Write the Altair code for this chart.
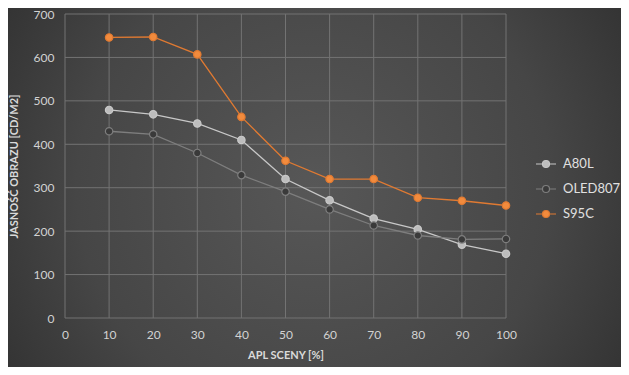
import altair as alt
import pandas as pd

apl = [10, 20, 30, 40, 50, 60, 70, 80, 90, 100]
a80l = [479, 469, 448, 410, 320, 271, 229, 204, 169, 148]
oled807 = [430, 423, 380, 329, 291, 250, 213, 190, 181, 182]
s95c = [646, 647, 607, 463, 362, 320, 320, 277, 270, 259]
series = ["A80L", "OLED807", "S95C"]
x_ticks = [0, 10, 20, 30, 40, 50, 60, 70, 80, 90, 100]
y_ticks = [0, 100, 200, 300, 400, 500, 600, 700]
stroke_colors = ["#c8c8c8", "#7e7e7e", "#e07a32"]
fill_colors = ["#bdbdbd", "#3a3a3a", "#f28b3d"]

rows = []
for name, vals in zip(series, [a80l, oled807, s95c]):
    for x, v in zip(apl, vals):
        rows.append({"apl": x, "val": v, "series": name})
df = pd.DataFrame(rows)

W, H = 441, 304
PAD = {"left": 57, "top": 6, "right": 115, "bottom": 49}

xscale = alt.Scale(domain=[0, 100], nice=False)
yscale = alt.Scale(domain=[0, 700], nice=False)

bg = alt.Chart(pd.DataFrame({"a": [0]})).mark_rect(
    fill=alt.Gradient(
        gradient="radial",
        x1=0.5, y1=0.5, r1=0.0, x2=0.5, y2=0.5, r2=0.75,
        stops=[alt.GradientStop(color="#575757", offset=0),
               alt.GradientStop(color="#464646", offset=0.5),
               alt.GradientStop(color="#222222", offset=1)],
    ),
    clip=False,
).encode(
    x=alt.value(-PAD["left"] - 10),
    x2=alt.value(W + PAD["right"] + 10),
    y=alt.value(-PAD["top"] - 10),
    y2=alt.value(H + PAD["bottom"] + 10),
)

vgrid = alt.Chart(pd.DataFrame({"t": x_ticks})).mark_rule(
    color="#737373", strokeWidth=1
).encode(x=alt.X("t:Q", scale=xscale, title="APL SCENY [%]",
                 axis=alt.Axis(values=x_ticks, grid=False, zindex=1)))

hgrid = alt.Chart(pd.DataFrame({"t": y_ticks})).mark_rule(
    color="#737373", strokeWidth=1
).encode(y=alt.Y("t:Q", scale=yscale, title="JASNOŚĆ OBRAZU [CD/M2]",
                 axis=alt.Axis(values=y_ticks, grid=False, zindex=1)))

sym = "M-1,0H-0.35M0.35,0H1M0.35,0A0.35,0.35,0,1,1,-0.35,0A0.35,0.35,0,1,1,0.35,0Z"
leg = alt.Legend(title=None, orient="none", legendX=470, legendY=139,
                 symbolType=sym, symbolSize=400, symbolStrokeWidth=1.2,
                 labelFontSize=13, labelColor="#e0e0e0", labelFont="Lato",
                 labelOffset=6, rowPadding=7, padding=0, zindex=1)

stroke_enc = alt.Stroke("series:N", scale=alt.Scale(domain=series, range=stroke_colors), legend=leg)

lines = alt.Chart(df).mark_line(strokeWidth=1.3).encode(
    x=alt.X("apl:Q", scale=xscale),
    y=alt.Y("val:Q", scale=yscale),
    stroke=stroke_enc,
)

points = alt.Chart(df).mark_point(filled=False, size=55, strokeWidth=1.2, opacity=1).encode(
    x=alt.X("apl:Q", scale=xscale),
    y=alt.Y("val:Q", scale=yscale),
    fill=alt.Fill("series:N", scale=alt.Scale(domain=series, range=fill_colors), legend=leg),
    stroke=stroke_enc,
)

chart = alt.layer(bg, vgrid, hgrid, lines, points).properties(
    width=W, height=H,
    autosize=alt.AutoSizeParams(type="none"),
    padding=PAD,
    background="#3a3a3a",
).configure_view(
    stroke=None,
).configure_axis(
    domain=False, ticks=False, labelFlush=False,
    labelColor="#d2d2d2", labelFont="Lato", labelFontSize=12,
    titleColor="#dadada", titleFont="Lato", titleFontSize=11, titleFontWeight="bold",
).configure_axisX(
    labelPadding=11, titlePadding=9,
).configure_axisY(
    labelPadding=11, titlePadding=14,
)

chart.save("out.html", embed_options={"renderer": "svg", "actions": False})
